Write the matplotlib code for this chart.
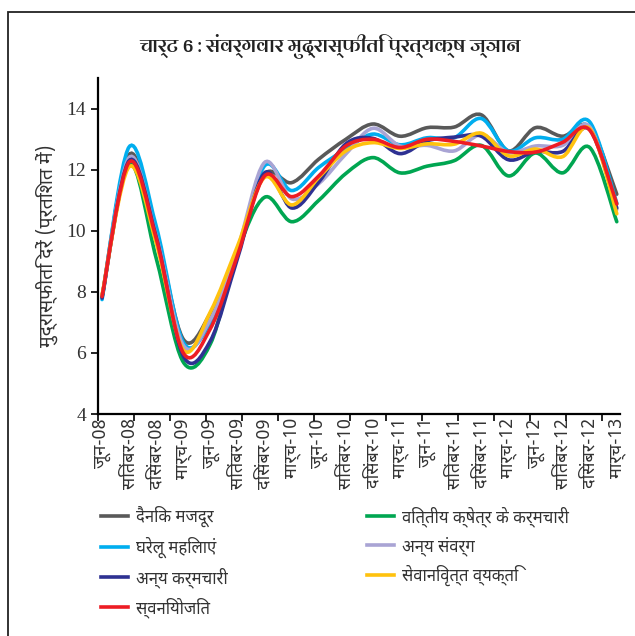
import matplotlib
matplotlib.use("Agg")
import matplotlib.pyplot as plt
from matplotlib import font_manager
from matplotlib.path import Path
from matplotlib.patches import PathPatch, Rectangle
from matplotlib.lines import Line2D
import numpy as np


# pick Devanagari families that are installed
installed = {f.name for f in font_manager.fontManager.ttflist}
wanted = ["Noto Sans Devanagari", "Mukta", "Hind", "Lohit Devanagari",
          "Sarala", "Poppins", "FreeSans"]
dev_font = next((w for w in wanted if w in installed), None)
families = ([dev_font] if dev_font else []) + ["DejaVu Sans"]
plt.rcParams["font.family"] = families
title_font = next((w for w in ["Arya", "Amiko", "Noto Serif Devanagari"]
                   if w in installed), None)
title_families = ([title_font] if title_font else []) + families

# data
months = ["जून-08", "सितंबर-08", "दिसंबर-08", "मार्च-09", "जून-09", "सितंबर-09",
          "दिसंबर-09", "मार्च-10", "जून-10", "सितंबर-10", "दिसंबर-10", "मार्च-11",
          "जून-11", "सितंबर-11", "दिसंबर-11", "मार्च-12", "जून-12", "सितंबर-12",
          "दिसंबर-12", "मार्च-13"]

daily_workers = [7.85, 12.5, 9.95, 6.45, 7.3, 9.4, 11.85, 11.58, 12.35, 13.0,
                 13.5, 13.1, 13.38, 13.4, 13.8, 12.62, 13.38, 13.1, 13.4, 11.2]
financial_employees = [7.85, 12.2, 9.1, 5.7, 6.3, 9.3, 11.1, 10.3, 11.0, 11.88,
                       12.4, 11.9, 12.12, 12.3, 12.8, 11.8, 12.55, 11.9, 12.73, 10.3]
housewives = [7.75, 12.75, 10.15, 6.35, 7.0, 9.25, 12.13, 11.32, 12.08, 12.68,
              13.17, 12.82, 13.05, 13.05, 13.68, 12.62, 13.05, 13.0, 13.57, 10.9]
other_categories = [7.85, 12.4, 9.85, 6.25, 7.1, 9.4, 12.24, 11.05, 11.55, 12.52,
                    13.36, 12.78, 12.8, 12.62, 13.15, 12.57, 12.78, 12.8, 13.41, 10.7]
other_employees = [7.8, 12.3, 9.8, 5.9, 6.4, 9.1, 11.9, 10.75, 11.6, 12.85,
                   13.03, 12.53, 12.95, 13.07, 13.1, 12.33, 12.6, 12.6, 13.32, 10.75]
retired = [7.9, 12.1, 9.6, 6.1, 7.35, 9.5, 11.75, 10.85, 11.75, 12.62,
           12.89, 12.7, 12.85, 12.84, 13.2, 12.46, 12.68, 12.43, 13.35, 10.56]
self_employed = [7.85, 12.25, 9.75, 6.0, 6.8, 9.2, 11.8, 11.12, 11.8, 12.78,
                 13.0, 12.73, 13.0, 12.93, 12.78, 12.6, 12.58, 12.9, 13.3, 10.88]

series = [
    ("दैनिक मजदूर", daily_workers, "#595959"),
    ("वित्तीय क्षेत्र के कर्मचारी", financial_employees, "#00A651"),
    ("घरेलू महिलाएं", housewives, "#00AEEF"),
    ("अन्य संवर्ग", other_categories, "#A9A4D4"),
    ("अन्य कर्मचारी", other_employees, "#2E3192"),
    ("सेवानिवृत्त व्यक्ति", retired, "#FFC20E"),
    ("स्वनियोजित", self_employed, "#ED1C24"),
]


def smooth_path(x, y):
    # excel style smoothed line: bezier segments with catmull-rom tangents
    x = np.asarray(x, float)
    y = np.asarray(y, float)
    n = len(x)
    verts = [(x[0], y[0])]
    codes = [Path.MOVETO]
    for i in range(n - 1):
        p0 = i - 1 if i > 0 else i
        p3 = i + 2 if i + 2 < n else i + 1
        c1 = (x[i] + (x[i + 1] - x[p0]) / 6, y[i] + (y[i + 1] - y[p0]) / 6)
        c2 = (x[i + 1] - (x[p3] - x[i]) / 6, y[i + 1] - (y[p3] - y[i]) / 6)
        verts += [c1, c2, (x[i + 1], y[i + 1])]
        codes += [Path.CURVE4] * 3
    return Path(verts, codes)


fig = plt.figure(figsize=(6.35, 6.36), dpi=100)
ax = fig.add_axes([0.1543, 0.349, 0.8217, 0.528])

xs = np.arange(len(months))
handles = {}
for name, vals, col in series:
    ax.add_patch(PathPatch(smooth_path(xs, vals), facecolor="none",
                           edgecolor=col, lw=2.6, capstyle="round"))
    handles[name] = Line2D([], [], color=col, lw=2.6)

x_lo, x_hi = -0.15, 19.11
ax.set_xlim(x_lo, x_hi)
ax.set_ylim(4, 15)
ax.set_yticks([4, 6, 8, 10, 12, 14])

ax.set_xticks(xs)
ax.set_xticklabels(months, rotation=90, fontsize=13, color="#333333")
ax.tick_params(axis="x", which="major", length=0, pad=3)
# tick marks sit on their own spacing, independent of the labels
ax.set_xticks(x_lo + np.arange(15) * 1.328, minor=True)
ax.tick_params(axis="x", which="minor", length=5, width=1.2, direction="out")
ax.tick_params(axis="y", length=5, width=1.2, direction="out", labelsize=14)
for lab in ax.get_yticklabels():
    lab.set_family(["Liberation Serif", "DejaVu Serif"])
    lab.set_color("#333333")

for s in ["top", "right"]:
    ax.spines[s].set_visible(False)
ax.spines["left"].set_linewidth(1.6)
ax.spines["bottom"].set_linewidth(1.6)

ax.set_ylabel("मुद्रास्फीति दरें (प्रतिशत में)", fontsize=14, labelpad=6,
              color="#333333")

fig.text(0.52, 0.928, "चार्ट 6 : संवर्गवार मुद्रास्फीति प्रत्यक्ष ज्ञान",
         ha="center", va="center", fontsize=14, fontweight="bold",
         family=title_families, color="#222222")

# legend rows are read left to right, so reorder for column filling
order = ["दैनिक मजदूर", "घरेलू महिलाएं", "अन्य कर्मचारी", "स्वनियोजित",
         "वित्तीय क्षेत्र के कर्मचारी", "अन्य संवर्ग", "सेवानिवृत्त व्यक्ति"]
leg = fig.legend([handles[k] for k in order], order, ncol=2, loc="upper left",
                 bbox_to_anchor=(0.136, 0.228), frameon=False, fontsize=12,
                 handlelength=1.6, handletextpad=0.5, columnspacing=8.35,
                 labelspacing=0.55)
for t in leg.get_texts():
    t.set_color("#333333")

# page frame (only top and left edges fall inside the crop)
fig.patches.append(Rectangle((8 / 635, -0.5), 2, 0.5 + (1 - 12 / 636),
                             transform=fig.transFigure, fill=False,
                             edgecolor="#222222", lw=1.3))

fig.savefig("out.png", dpi=100)
